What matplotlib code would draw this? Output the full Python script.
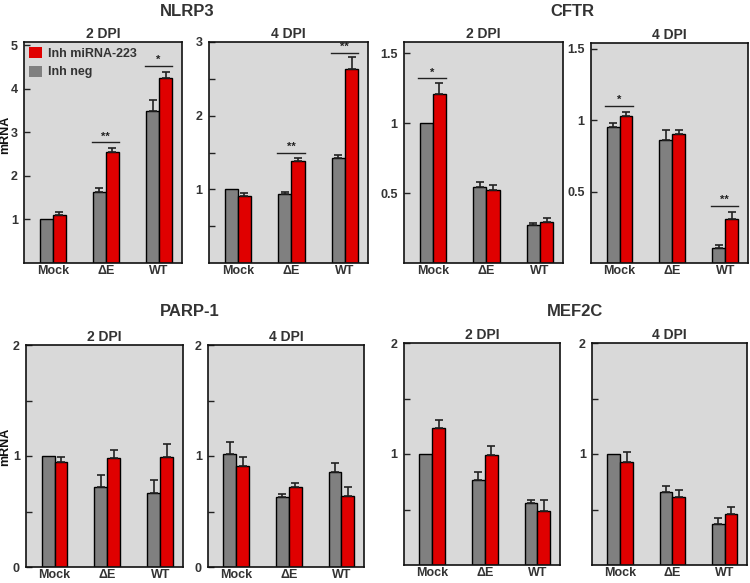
import matplotlib
matplotlib.use("Agg")
import matplotlib.pyplot as plt
import numpy as np
from matplotlib.patches import Patch

plt.rcParams['font.family'] = ['Liberation Sans', 'DejaVu Sans']
plt.rcParams['font.weight'] = 'bold'

groups = ["Mock", "ΔE", "WT"]
series_names = ["Inh miRNA-223", "Inh neg"]

# NLRP3
nlrp3_2dpi_neg = [1.00, 1.64, 3.48]
nlrp3_2dpi_neg_err = [0.0, 0.09, 0.25]
nlrp3_2dpi_inh = [1.09, 2.55, 4.25]
nlrp3_2dpi_inh_err = [0.07, 0.09, 0.14]
nlrp3_4dpi_neg = [1.00, 0.93, 1.42]
nlrp3_4dpi_neg_err = [0.0, 0.04, 0.05]
nlrp3_4dpi_inh = [0.91, 1.38, 2.63]
nlrp3_4dpi_inh_err = [0.04, 0.05, 0.17]
# CFTR
cftr_2dpi_neg = [1.00, 0.54, 0.27]
cftr_2dpi_neg_err = [0.0, 0.04, 0.015]
cftr_2dpi_inh = [1.21, 0.52, 0.29]
cftr_2dpi_inh_err = [0.08, 0.04, 0.03]
cftr_4dpi_neg = [0.954, 0.86, 0.107]
cftr_4dpi_neg_err = [0.027, 0.07, 0.02]
cftr_4dpi_inh = [1.03, 0.90, 0.31]
cftr_4dpi_inh_err = [0.024, 0.03, 0.05]
# PARP-1
parp1_2dpi_neg = [1.00, 0.72, 0.67]
parp1_2dpi_neg_err = [0.0, 0.11, 0.11]
parp1_2dpi_inh = [0.95, 0.98, 0.99]
parp1_2dpi_inh_err = [0.04, 0.07, 0.12]
parp1_4dpi_neg = [1.02, 0.63, 0.86]
parp1_4dpi_neg_err = [0.11, 0.03, 0.08]
parp1_4dpi_inh = [0.91, 0.72, 0.64]
parp1_4dpi_inh_err = [0.08, 0.04, 0.08]
# MEF2C
mef2c_2dpi_neg = [1.00, 0.77, 0.56]
mef2c_2dpi_neg_err = [0.0, 0.07, 0.03]
mef2c_2dpi_inh = [1.23, 0.99, 0.49]
mef2c_2dpi_inh_err = [0.08, 0.08, 0.10]
mef2c_4dpi_neg = [1.00, 0.66, 0.37]
mef2c_4dpi_neg_err = [0.0, 0.05, 0.05]
mef2c_4dpi_inh = [0.93, 0.61, 0.46]
mef2c_4dpi_inh_err = [0.09, 0.07, 0.06]

# significance: (group index, level, label)
nlrp3_2dpi_sig = [(1, 2.77, "**"), (2, 4.52, "*")]
nlrp3_4dpi_sig = [(1, 1.50, "**"), (2, 2.85, "**")]
cftr_2dpi_sig = [(0, 1.32, "*")]
cftr_4dpi_sig = [(0, 1.10, "*"), (2, 0.40, "**")]

GREY = "#808080"
RED = "#e00000"
BG = "#d9d9d9"
TXT = "#333333"

W, H = 750, 583
fig = plt.figure(figsize=(7.5, 5.83), dpi=100)


def add_axes(x0, y0, x1, y1):
    return fig.add_axes([x0 / W, 1 - y1 / H, (x1 - x0) / W, (y1 - y0) / H])


def panel(ax, neg, neg_err, inh, inh_err, ylim, ticks, labels, sig=None, subtitle="", ylabel_pos=None):
    x = np.arange(len(groups))
    bw = 0.245
    ax.set_facecolor(BG)
    ax.bar(x - bw / 2, neg, bw, color=GREY, edgecolor="black", linewidth=1.0, zorder=2)
    ax.bar(x + bw / 2, inh, bw, color=RED, edgecolor="black", linewidth=1.0, zorder=2)
    for xs, vals, errs in ((x - bw / 2, neg, neg_err), (x + bw / 2, inh, inh_err)):
        for xi, v, e in zip(xs, vals, errs):
            if e > 0:
                ax.errorbar(xi, v, yerr=[[0], [e]], fmt="none", ecolor="#222222",
                            elinewidth=1.2, capsize=3, capthick=1.2, zorder=3)
    if sig:
        for gi, lvl, lab in sig:
            ax.plot([gi - 0.27, gi + 0.25], [lvl, lvl], color="#222222", lw=1.0, zorder=3)
            ax.text(gi - 0.01, lvl + (ylim[1] - ylim[0]) * 0.004, lab, ha="center", va="bottom",
                    fontsize=8, color="#222222", fontweight="bold")
    ax.set_xlim(-0.54, 2.43)
    ax.set_ylim(*ylim)
    ax.set_xticks(x)
    ax.set_xticklabels(groups, fontsize=9, fontweight="bold", color=TXT)
    ax.tick_params(axis="x", length=0, pad=1.5)
    ax.set_yticks(ticks)
    ax.set_yticklabels(labels, fontsize=9, fontweight="bold", color=TXT)
    ax.tick_params(axis="y", direction="in", length=4, width=1, pad=4.5, color="#222222")
    for s in ax.spines.values():
        s.set_linewidth(1.2)
        s.set_color("#111111")
    ax.set_title(subtitle, fontsize=10, fontweight="bold", color=TXT, pad=3)
    if ylabel_pos is not None:
        ax.set_ylabel("mRNA", fontsize=9, fontweight="bold", color="#111111")
        ax.yaxis.set_label_coords(*ylabel_pos)


# Top row
a1 = add_axes(24, 42, 182, 263)
panel(a1, nlrp3_2dpi_neg, nlrp3_2dpi_neg_err, nlrp3_2dpi_inh, nlrp3_2dpi_inh_err,
      (0, 5.07), [1, 2, 3, 4, 5], ["1", "2", "3", "4", "5"], nlrp3_2dpi_sig, "2 DPI",
      ylabel_pos=((11 - 24) / 158, (263 - 135) / 221))
a2 = add_axes(209, 42, 368, 263)
panel(a2, nlrp3_4dpi_neg, nlrp3_4dpi_neg_err, nlrp3_4dpi_inh, nlrp3_4dpi_inh_err,
      (0, 3.0), [0.5, 1, 1.5, 2, 2.5, 3], ["", "1", "", "2", "", "3"], nlrp3_4dpi_sig, "4 DPI")
a3 = add_axes(404, 42, 563, 263)
panel(a3, cftr_2dpi_neg, cftr_2dpi_neg_err, cftr_2dpi_inh, cftr_2dpi_inh_err,
      (0, 1.58), [0.5, 1, 1.5], ["0.5", "1", "1.5"], cftr_2dpi_sig, "2 DPI")
a4 = add_axes(591, 43, 748, 263)
panel(a4, cftr_4dpi_neg, cftr_4dpi_neg_err, cftr_4dpi_inh, cftr_4dpi_inh_err,
      (0, 1.54), [0.5, 1, 1.5], ["0.5", "1", "1.5"], cftr_4dpi_sig, "4 DPI")

# Bottom row
b1 = add_axes(26, 345, 183, 567)
panel(b1, parp1_2dpi_neg, parp1_2dpi_neg_err, parp1_2dpi_inh, parp1_2dpi_inh_err,
      (0, 2.0), [0, 0.5, 1, 1.5, 2], ["0", "", "1", "", "2"], None, "2 DPI",
      ylabel_pos=((11.5 - 26) / 157, (567 - 447) / 222))
b2 = add_axes(208, 345, 364, 567)
panel(b2, parp1_4dpi_neg, parp1_4dpi_neg_err, parp1_4dpi_inh, parp1_4dpi_inh_err,
      (0, 2.0), [0, 0.5, 1, 1.5, 2], ["0", "", "1", "", "2"], None, "4 DPI")
b3 = add_axes(404, 343, 560, 565)
panel(b3, mef2c_2dpi_neg, mef2c_2dpi_neg_err, mef2c_2dpi_inh, mef2c_2dpi_inh_err,
      (0, 2.0), [0.5, 1, 1.5, 2], ["", "1", "", "2"], None, "2 DPI")
b4 = add_axes(592, 343, 747, 565)
panel(b4, mef2c_4dpi_neg, mef2c_4dpi_neg_err, mef2c_4dpi_inh, mef2c_4dpi_inh_err,
      (0, 2.0), [0.5, 1, 1.5, 2], ["", "1", "", "2"], None, "4 DPI")

# Legend
handles = [Patch(facecolor=RED, edgecolor="none"), Patch(facecolor=GREY, edgecolor="none")]
a1.legend(handles, series_names, loc="upper left", frameon=False,
          handlelength=1.0, handleheight=1.0, handletextpad=0.5, labelspacing=0.45,
          borderaxespad=0.2, borderpad=0.2, prop={"weight": "bold", "size": 9},
          labelcolor=TXT)

# Gene titles
fig.text(187 / W, 1 - 12 / H, "NLRP3", ha="center", va="center", fontsize=12, fontweight="bold", color=TXT)
fig.text(572 / W, 1 - 11 / H, "CFTR", ha="center", va="center", fontsize=12, fontweight="bold", color=TXT)
fig.text(190 / W, 1 - 312 / H, "PARP-1", ha="center", va="center", fontsize=12, fontweight="bold", color=TXT)
fig.text(575 / W, 1 - 312 / H, "MEF2C", ha="center", va="center", fontsize=12, fontweight="bold", color=TXT)

fig.savefig("out.png", dpi=100, facecolor="white")
